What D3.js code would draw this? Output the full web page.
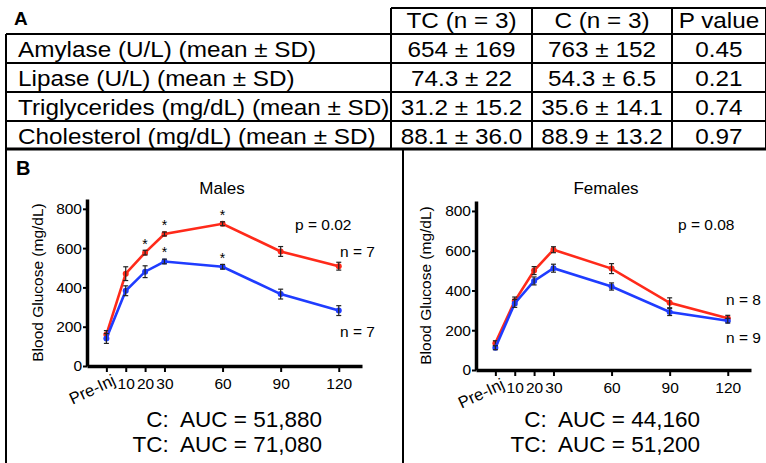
<!DOCTYPE html>
<html>
<head>
<meta charset="utf-8">
<script src="https://cdn.jsdelivr.net/npm/d3@7"></script>
<style>
  body { margin: 0; background: #fff; }
  svg { display: block; font-family: "Liberation Sans", Arial, sans-serif; }
</style>
</head>
<body>
<div id="chart"></div>
<script>
// ---- table (panel A) ----
const tableHeader = ["TC (n = 3)", "C (n = 3)", "P value"];
const tableRows = ["Amylase (U/L) (mean ± SD)", "Lipase (U/L) (mean ± SD)",
                   "Triglycerides (mg/dL) (mean ± SD)", "Cholesterol (mg/dL) (mean ± SD)"];
const tcCol = ["654 ± 169", "74.3 ± 22", "31.2 ± 15.2", "88.1 ± 36.0"];
const cCol = ["763 ± 152", "54.3 ± 6.5", "35.6 ± 14.1", "88.9 ± 13.2"];
const pCol = ["0.45", "0.21", "0.74", "0.97"];

// ---- glucose curves (panel B) ----
const times = [0, 10, 20, 30, 60, 90, 120];
const timeLabels = ["Pre-Inj", "10", "20", "30", "60", "90", "120"];
const yTicks = [0, 200, 400, 600, 800];

const maleTC = [160, 470, 577, 672, 724, 583, 508];
const maleTCerr = [20, 35, 12, 10, 10, 25, 20];
const maleC = [140, 383, 480, 532, 505, 366, 282];
const maleCerr = [25, 25, 30, 12, 12, 25, 25];
const maleStarsTC = [20, 30, 60];
const maleStarsC = [30, 60];

const femaleTC = [135, 347, 500, 605, 510, 338, 260];
const femaleTCerr = [12, 20, 20, 15, 25, 25, 15];
const femaleC = [112, 335, 448, 512, 420, 292, 248];
const femaleCerr = [10, 20, 20, 20, 18, 18, 12];

const RED = "#ff2a1a", BLUE = "#1f3cff";

var width = 766, height = 463;
var svg = d3.select("#chart").append("svg")
  .attr("width", width).attr("height", height);
svg.append("rect").attr("width", width).attr("height", height).attr("fill", "#fff");

// table
var colX = [6, 391, 532, 672, 766];
var rowY = [34, 63, 92, 121, 149];
var tb = svg.append("g");
tb.append("text").attr("x", 14).attr("y", 25).attr("font-size", 19).attr("font-weight", "bold").text("A");

// table text is a little wider than Arial in the figure
function cellText(x, y, anchor, str) {
  tb.append("text").attr("transform", "translate(" + x + "," + y + ") scale(1.08,1)")
    .attr("text-anchor", anchor).attr("font-size", 22.5).text(str);
}

tb.append("line").attr("x1", colX[1]).attr("x2", colX[4]).attr("y1", 8).attr("y2", 8)
  .attr("stroke", "#000").attr("stroke-width", 2);
tableHeader.forEach(function(h, i) {
  cellText((colX[i + 1] + colX[i + 2]) / 2, 28, "middle", h);
});
rowY.forEach(function(y, i) {
  tb.append("line").attr("x1", colX[0]).attr("x2", colX[4]).attr("y1", y).attr("y2", y)
    .attr("stroke", "#000").attr("stroke-width", i == rowY.length - 1 ? 3 : 2);
});
colX.forEach(function(x, i) {
  tb.append("line").attr("x1", x).attr("x2", x)
    .attr("y1", i == 0 ? rowY[0] : 8).attr("y2", rowY[rowY.length - 1])
    .attr("stroke", "#000").attr("stroke-width", 2);
});
tableRows.forEach(function(r, i) {
  var base = rowY[i] + 23;
  cellText(18, base, "start", r);
  [tcCol[i], cCol[i], pCol[i]].forEach(function(v, j) {
    cellText((colX[j + 1] + colX[j + 2]) / 2, base, "middle", v);
  });
});

// panel B frame
svg.append("line").attr("x1", 6).attr("x2", 6).attr("y1", 149).attr("y2", height)
  .attr("stroke", "#000").attr("stroke-width", 2);
svg.append("line").attr("x1", 403).attr("x2", 403).attr("y1", 149).attr("y2", height)
  .attr("stroke", "#000").attr("stroke-width", 2);
svg.append("text").attr("x", 16).attr("y", 175).attr("font-size", 20).attr("font-weight", "bold").text("B");

function drawPanel(cfg) {
  var g = svg.append("g");
  var x = d3.scaleLinear().domain([-10, 132]).range([cfg.left, cfg.right]);
  var y = d3.scaleLinear().domain([0, 850]).range([cfg.bottom, cfg.top]);

  g.append("text").attr("x", cfg.titleX).attr("y", 194).attr("text-anchor", "middle")
    .attr("font-size", 17).text(cfg.title);

  // y axis
  var ya = g.append("g").attr("transform", "translate(" + cfg.left + ",0)")
    .call(d3.axisLeft(y).tickValues(yTicks).tickSize(4).tickPadding(1).tickSizeOuter(0));
  ya.select(".domain").attr("stroke-width", 3.5);
  ya.selectAll(".tick line").attr("stroke-width", 2);
  ya.selectAll("text").attr("font-size", 15.5).attr("font-family", "Liberation Sans, Arial, sans-serif");

  // x axis
  var xa = g.append("g").attr("transform", "translate(0," + cfg.bottom + ")")
    .call(d3.axisBottom(x).tickValues(times).tickFormat(function(d, i) { return timeLabels[i]; })
      .tickSize(6).tickSizeOuter(0));
  xa.select(".domain").attr("stroke-width", 3.5);
  xa.selectAll(".tick line").attr("stroke-width", 2);
  xa.selectAll("text").attr("font-size", 15.5).attr("font-family", "Liberation Sans, Arial, sans-serif")
    .attr("dy", "0.9em");
  xa.selectAll(".tick").filter(function(d) { return d === 0; }).select("text")
    .attr("text-anchor", "end").attr("dy", "0").attr("font-size", 16.5)
    .attr("transform", "translate(6,10) rotate(-25)");

  g.append("text").attr("transform", "translate(" + cfg.labelX + "," + (cfg.top + cfg.bottom) / 2 + ") rotate(-90)")
    .attr("text-anchor", "middle").attr("dy", "0.35em").attr("font-size", 15.5).text("Blood Glucose (mg/dL)");

  var line = d3.line().x(function(d, i) { return x(times[i]); }).y(function(d) { return y(d); });

  [{v: cfg.tc, e: cfg.tcErr, c: RED}, {v: cfg.c, e: cfg.cErr, c: BLUE}].forEach(function(s) {
    g.append("path").datum(s.v).attr("d", line).attr("fill", "none")
      .attr("stroke", s.c).attr("stroke-width", 2.6);
    g.selectAll(null).data(s.v).enter().append("circle")
      .attr("cx", function(d, i) { return x(times[i]); }).attr("cy", function(d) { return y(d); })
      .attr("r", 3).attr("fill", s.c);
    var eb = g.selectAll(null).data(s.v).enter().append("g");
    eb.append("line").attr("x1", function(d, i) { return x(times[i]); }).attr("x2", function(d, i) { return x(times[i]); })
      .attr("y1", function(d, i) { return y(d - s.e[i]); }).attr("y2", function(d, i) { return y(d + s.e[i]); })
      .attr("stroke", "#222").attr("stroke-width", 1.2);
    [-1, 1].forEach(function(sg) {
      eb.append("line").attr("x1", function(d, i) { return x(times[i]) - 2.5; }).attr("x2", function(d, i) { return x(times[i]) + 2.5; })
        .attr("y1", function(d, i) { return y(d + sg * s.e[i]); }).attr("y2", function(d, i) { return y(d + sg * s.e[i]); })
        .attr("stroke", "#222").attr("stroke-width", 1.2);
    });
  });

  // asterisks
  [{t: cfg.starsTC || [], v: cfg.tc}, {t: cfg.starsC || [], v: cfg.c}].forEach(function(s) {
    s.t.forEach(function(t) {
      var i = times.indexOf(t);
      g.append("text").attr("x", x(t)).attr("y", y(s.v[i]) - 4).attr("text-anchor", "middle")
        .attr("font-size", 14).text("*");
    });
  });

  g.append("text").attr("x", cfg.pX).attr("y", 230).attr("font-size", 15.5).text(cfg.p);
  g.append("text").attr("x", cfg.nX).attr("y", cfg.n1Y).attr("font-size", 15.5).text(cfg.n1);
  g.append("text").attr("x", cfg.nX).attr("y", cfg.n2Y).attr("font-size", 15.5).text(cfg.n2);

  g.append("text").attr("x", cfg.aucX).attr("y", 427).attr("text-anchor", "end").attr("font-size", 22.5)
    .attr("xml:space", "preserve").text(cfg.aucC);
  g.append("text").attr("x", cfg.aucX).attr("y", 452).attr("text-anchor", "end").attr("font-size", 22.5)
    .attr("xml:space", "preserve").text(cfg.aucTC);
}

drawPanel({
  title: "Males", titleX: 222, left: 87, right: 362, top: 199, bottom: 366, labelX: 38,
  tc: maleTC, tcErr: maleTCerr, c: maleC, cErr: maleCerr, starsTC: maleStarsTC, starsC: maleStarsC,
  p: "p = 0.02", pX: 295, n1: "n = 7", n1Y: 257, n2: "n = 7", n2Y: 337, nX: 340,
  aucX: 322, aucC: "C:  AUC = 51,880", aucTC: "TC:  AUC = 71,080"
});
drawPanel({
  title: "Females", titleX: 606, left: 476, right: 751, top: 201, bottom: 370, labelX: 426,
  tc: femaleTC, tcErr: femaleTCerr, c: femaleC, cErr: femaleCerr,
  p: "p = 0.08", pX: 678, n1: "n = 8", n1Y: 305, n2: "n = 9", n2Y: 343, nX: 726,
  aucX: 700, aucC: "C:  AUC = 44,160", aucTC: "TC:  AUC = 51,200"
});
</script>
</body>
</html>
